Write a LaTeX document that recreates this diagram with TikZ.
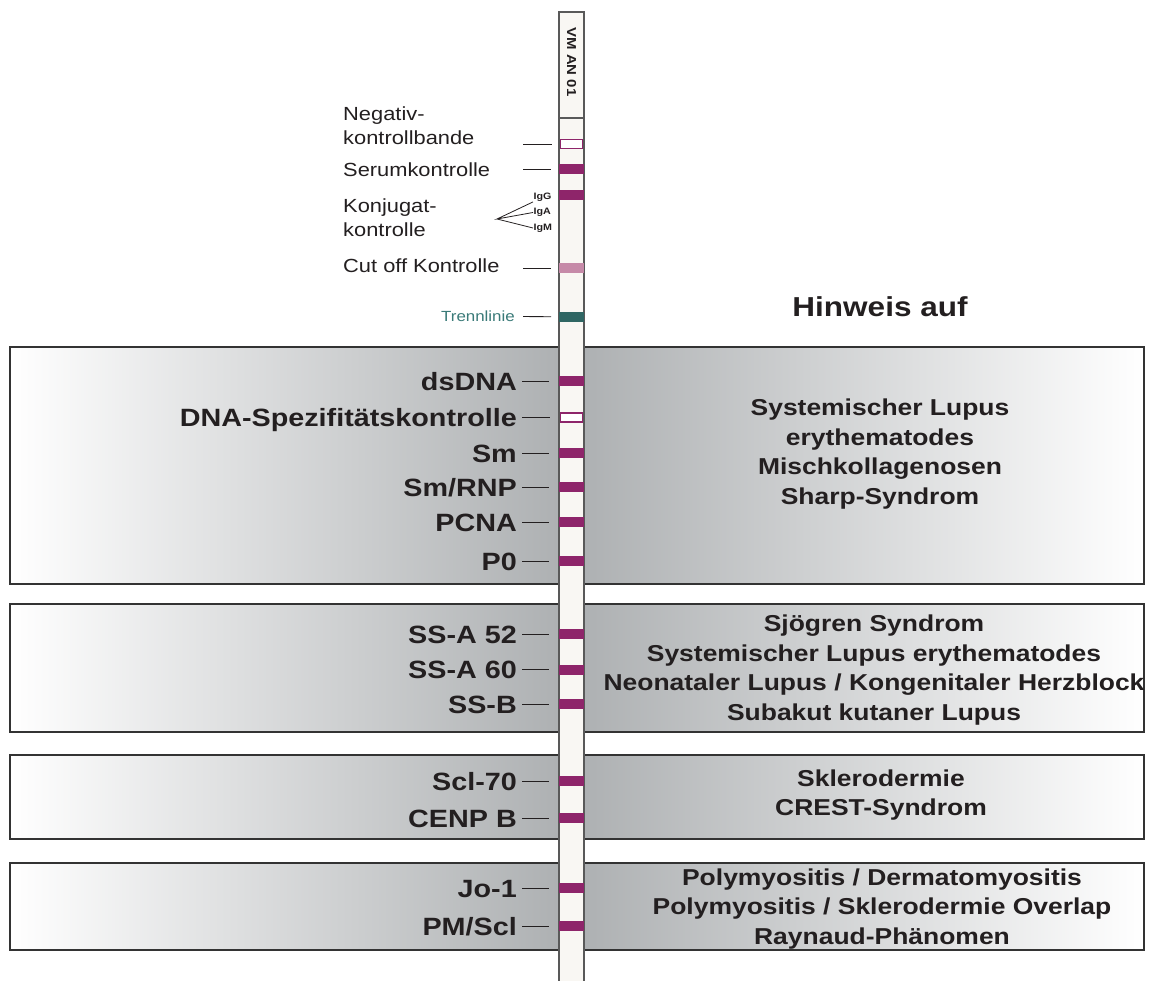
\documentclass[tikz,border=0pt]{standalone}
\usepackage{fontspec}
\setmainfont{Liberation Sans}[FakeStretch=1.15]
\definecolor{bandviolett}{RGB}{142,37,106}
\definecolor{cutrosa}{RGB}{198,138,168}
\definecolor{trenngruen}{RGB}{47,102,99}
\definecolor{trenntext}{RGB}{58,122,120}
\definecolor{boxgrau}{RGB}{172,175,177}
\definecolor{streifen}{RGB}{249,247,243}
\definecolor{schrift}{RGB}{35,31,32}
\begin{document}
\begin{tikzpicture}[x=1pt,y=-1pt,line cap=butt,line join=miter,
		band/.style={rectangle,minimum width=25pt,minimum height=10pt,inner sep=0pt,outer sep=0pt,fill=bandviolett},
		leerband/.style={band,fill=white,draw=bandviolett,line width=1.2pt,minimum width=22.5pt,minimum height=9pt},
		marker/.style={anchor=east,inner sep=0pt,text height=18pt,text depth=0pt,text=schrift,font=\fontsize{25}{30}\selectfont\bfseries},
		kontrolle/.style={anchor=base west,inner sep=0pt,text=schrift,font=\fontsize{19}{24}\selectfont},
		ig/.style={anchor=west,inner sep=0.5pt,text=schrift,font=\fontsize{9.3}{10}\selectfont\bfseries},
		hinweis/.style={align=center,inner sep=0pt,text=schrift,font=\fontsize{23}{29.7}\selectfont\bfseries},
		leader/.style={draw=schrift,line width=0.9pt,shorten <=5pt,shorten >=10pt},
		kasten/.style={draw=black!80,line width=1.3pt}]
		\useasboundingbox (0,0) rectangle (1153,981);
		% Kaesten
		\shade[left color=white,right color=boxgrau] (10,347) rectangle (571,584);
		\shade[left color=boxgrau,right color=white] (571,347) rectangle (1144,584);
		\shade[left color=white,right color=boxgrau] (10,604) rectangle (571,732);
		\shade[left color=boxgrau,right color=white] (571,604) rectangle (1144,732);
		\shade[left color=white,right color=boxgrau] (10,755) rectangle (571,839);
		\shade[left color=boxgrau,right color=white] (571,755) rectangle (1144,839);
		\shade[left color=white,right color=boxgrau] (10,863) rectangle (571,950);
		\shade[left color=boxgrau,right color=white] (571,863) rectangle (1144,950);
		\draw[kasten] (10,347) rectangle (1144,584) (10,604) rectangle (1144,732) (10,755) rectangle (1144,839) (10,863) rectangle (1144,950);
		% Streifen
		\fill[streifen] (559,12) rectangle (584,981);
		\draw[black!65,line width=1.2pt] (559,981)--(559,12)--(584,12)--(584,981) (559,118)--(584,118);
		\node[rotate=-90,inner sep=0pt,text=schrift,font=\fontsize{13}{15}\selectfont\bfseries] (vman) at (571.5,62) {VM AN 01};
		% Banden
		\node[leerband] (negband) at (571.5,144) {};
		\node[band] (serband) at (571.5,169.5) {};
		\node[band] (iggband) at (571.5,195) {};
		\node[band,fill=cutrosa] (cutband) at (571.5,268) {};
		\node[band,fill=trenngruen] (trennband) at (571.5,317) {};
		\node[band] (dsdna) at (571.5,381) {};
		\node[leerband] (dnaspez) at (571.5,417.5) {};
		\node[band] (sm) at (571.5,453) {};
		\node[band] (smrnp) at (571.5,487) {};
		\node[band] (pcna) at (571.5,522) {};
		\node[band] (pnull) at (571.5,561) {};
		\node[band] (ssa52) at (571.5,634) {};
		\node[band] (ssa60) at (571.5,669.5) {};
		\node[band] (ssb) at (571.5,704) {};
		\node[band] (scl70) at (571.5,781) {};
		\node[band] (cenpb) at (571.5,818) {};
		\node[band] (joone) at (571.5,888) {};
		\node[band] (pmscl) at (571.5,926) {};
		% Kontrollen oben
		\node[kontrolle] (lneg1) at (343,121) {Negativ-};
		\node[kontrolle] (lneg2) at (343,145) {kontrollbande};
		\node[kontrolle] (lser) at (343,177) {Serumkontrolle};
		\node[kontrolle] (lkon1) at (343,213) {Konjugat-};
		\node[kontrolle] (lkon2) at (343,237) {kontrolle};
		\node[kontrolle] (lcut) at (343,273) {Cut off Kontrolle};
		\node[anchor=east,inner sep=0pt,text height=10.5pt,text depth=0pt,text=trenntext,font=\fontsize{14.7}{17}\selectfont] (ltrenn) at (515,316) {Trennlinie};
		\coordinate (negend) at (523,144);
		\coordinate (serend) at (523,169.5);
		\coordinate (cutend) at (523,268);
		\draw[leader,shorten <=0pt,shorten >=8pt] (negend) -- (negband);
		\draw[leader,shorten <=0pt,shorten >=8pt] (serend) -- (serband);
		\draw[leader,shorten <=0pt,shorten >=8pt] (cutend) -- (cutband);
		\draw[leader,shorten <=8pt,shorten >=8pt] (ltrenn) -- (trennband);
		\node[ig] (igg) at (533,197) {IgG};
		\node[ig] (iga) at (533,212.5) {IgA};
		\node[ig] (igm) at (533,228) {IgM};
		\coordinate (konj) at (497,219);
		\draw[draw=schrift,line width=0.8pt] (igg.south west) -- (konj) -- (iga.west) (konj) -- (igm.west);
		\node[inner sep=0pt,text=schrift,font=\fontsize{27.4}{32}\selectfont\bfseries] (hinweisauf) at (880,307) {Hinweis auf};
		% Marker in den Kaesten
		\node[marker] (ldsdna) at (517,381) {dsDNA};
		\node[marker] (ldnaspez) at (517,417.5) {DNA-Spezifitätskontrolle};
		\node[marker] (lsm) at (517,453) {Sm};
		\node[marker] (lsmrnp) at (517,487) {Sm/RNP};
		\node[marker] (lpcna) at (517,522) {PCNA};
		\node[marker] (lpnull) at (517,561) {P0};
		\node[marker] (lssa52) at (517,634) {SS-A 52};
		\node[marker] (lssa60) at (517,669.5) {SS-A 60};
		\node[marker] (lssb) at (517,704) {SS-B};
		\node[marker] (lscl70) at (517,781) {Scl-70};
		\node[marker] (lcenpb) at (517,818) {CENP B};
		\node[marker] (ljoone) at (517,888) {Jo-1};
		\node[marker] (lpmscl) at (517,926) {PM/Scl};
		\draw[leader] (ldsdna) -- (dsdna);
		\draw[leader] (ldnaspez) -- (dnaspez);
		\draw[leader] (lsm) -- (sm);
		\draw[leader] (lsmrnp) -- (smrnp);
		\draw[leader] (lpcna) -- (pcna);
		\draw[leader] (lpnull) -- (pnull);
		\draw[leader] (lssa52) -- (ssa52);
		\draw[leader] (lssa60) -- (ssa60);
		\draw[leader] (lssb) -- (ssb);
		\draw[leader] (lscl70) -- (scl70);
		\draw[leader] (lcenpb) -- (cenpb);
		\draw[leader] (ljoone) -- (joone);
		\draw[leader] (lpmscl) -- (pmscl);
		% Hinweise
		\node[hinweis] (hsle) at (880,454) {Systemischer Lupus\\erythematodes\\Mischkollagenosen\\Sharp-Syndrom};
		\node[hinweis] (hsjoegren) at (874,670) {Sjögren Syndrom\\Systemischer Lupus erythematodes\\Neonataler Lupus / Kongenitaler Herzblock\\Subakut kutaner Lupus};
		\node[hinweis] (hsklero) at (881,795) {Sklerodermie\\CREST-Syndrom};
		\node[hinweis] (hpoly) at (882,909) {Polymyositis / Dermatomyositis\\Polymyositis / Sklerodermie Overlap\\Raynaud-Phänomen};
	\end{tikzpicture}
\end{document}
